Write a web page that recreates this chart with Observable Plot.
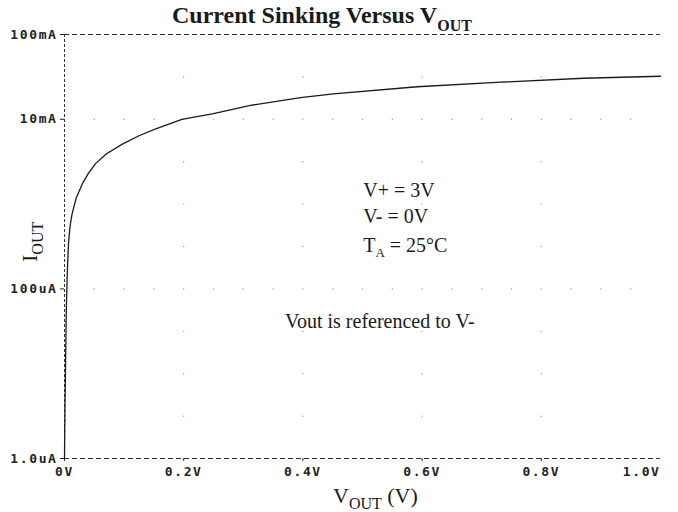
<!DOCTYPE html>
<html><head><meta charset="utf-8">
<script src="https://cdn.jsdelivr.net/npm/d3@7"></script>
<script src="https://cdn.jsdelivr.net/npm/@observablehq/plot@0.6"></script>
<style>body{margin:0;background:#fff}</style>
</head><body><div id="chart"></div>
<script>
// Output voltage (V) and sink current (A)
const vout = [0, 0.0008, 0.0015, 0.003, 0.0045, 0.0067, 0.0085, 0.010, 0.0125, 0.0156, 0.020, 0.030, 0.040, 0.052, 0.070, 0.097, 0.125, 0.153, 0.197, 0.248, 0.312, 0.396, 0.451, 0.592, 0.732, 0.871, 1.0];
const iout = [1e-6, 4e-6, 9e-6, 5.5e-5, 1.45e-4, 3.4e-4, 4.8e-4, 5.9e-4, 7.5e-4, 9.2e-4, 1.2e-3, 1.74e-3, 2.3e-3, 3.0e-3, 3.9e-3, 5.1e-3, 6.4e-3, 7.7e-3, 9.96e-3, 1.16e-2, 1.46e-2, 1.8e-2, 2.0e-2, 2.42e-2, 2.74e-2, 3.05e-2, 3.22e-2];

const xTicks = [0, 0.2, 0.4, 0.6, 0.8, 1.0];
const xTickLabels = ["0V", "0.2V", "0.4V", "0.6V", "0.8V", "1.0V"];
const yTicks = [1e-6, 1e-4, 1e-2, 1e-1];
const yTickLabels = ["1.0uA", "100uA", "10mA", "100mA"];

// dotted grid: rows at labelled decades, columns at major x ticks
const gridRowY = [1e-4, 1e-2];
const gridRowX = [0.05, 0.1, 0.15, 0.25, 0.3, 0.35, 0.45, 0.5, 0.55, 0.65, 0.7, 0.75, 0.85, 0.9, 0.95];
const gridColX = [0.2, 0.4, 0.6, 0.8];
const gridColY = [3.16e-6, 1e-5, 3.16e-5, 1e-4, 3.16e-4, 1e-3, 3.16e-3, 1e-2, 3.16e-2];

const curve = vout.map((v, i) => ({v, i: iout[i]}));
const grid = [
  ...gridRowY.flatMap(y => gridRowX.map(x => ({x, y}))),
  ...gridColX.flatMap(x => gridColY.map(y => ({x, y})))
];

const tickFont = {fontFamily: "DejaVu Sans Mono", fontSize: 13, fontWeight: "bold", fill: "#222"};

const plot = Plot.plot({
  width: 678, height: 512,
  marginLeft: 64, marginRight: 18, marginTop: 34, marginBottom: 54,
  x: {domain: [0, 1]},
  y: {type: "log", domain: [1e-6, 1e-1]},
  style: {background: "#fff", color: "#222"},
  marks: [
    Plot.dot(grid, {x: "x", y: "y", r: 0.7, fill: "#999", stroke: null}),
    Plot.ruleY([1e-1], {stroke: "#333", strokeDasharray: "5,3"}),
    Plot.ruleY([1e-6], {stroke: "#333", strokeDasharray: "5,3"}),
    Plot.ruleX([0], {stroke: "#333", strokeDasharray: "3,2"}),
    Plot.axisY(yTicks, {tickSize: 4, tickPadding: 3, label: null, tickFormat: d => yTickLabels[yTicks.indexOf(d)], ...tickFont}),
    Plot.axisX(xTicks.slice(0, 5), {tickSize: 3, tickPadding: 5, label: null, tickFormat: d => xTickLabels[xTicks.indexOf(d)], ...tickFont}),
    Plot.axisX(xTicks.slice(5), {tickSize: 0, tickPadding: 8, label: null, textAnchor: "end", tickFormat: d => xTickLabels[xTicks.indexOf(d)], ...tickFont}),
    Plot.line(curve, {x: "v", y: "i", stroke: "#1a1a1a", strokeWidth: 1.3})
  ]
});

const svg = d3.select(plot);
svg.selectAll('g[aria-label="x-axis tick label"] text, g[aria-label="y-axis tick label"] text').attr("letter-spacing", "1.6px");

const sx = plot.scale("x"), sy = plot.scale("y");
const serif = "Liberation Serif, Times New Roman, serif";

function sub(sel, main, subText, size, subSize, dy, weight, rest) {
  const t = sel.append("text").attr("font-family", serif).attr("font-size", size).attr("fill", "#1a1a1a").attr("text-anchor", "start");
  if (weight) t.attr("font-weight", weight);
  t.append("tspan").text(main);
  t.append("tspan").attr("font-size", subSize).attr("dy", dy).text(subText);
  if (rest) t.append("tspan").attr("dy", -dy).text(rest);
  return t;
}

// title
sub(svg, "Current Sinking Versus V", "OUT", 24, 16, 8, "bold").attr("x", 172).attr("y", 23);

// y label
sub(svg, "I", "OUT", 22, 16, 6, null).attr("transform", "translate(37,262) rotate(-90)");

// x label
sub(svg, "V", "OUT", 22, 16, 6, null, " (V)").attr("x", 333).attr("y", 503);

// annotations (data coordinates)
const annX = 0.502;
const ann = svg.append("g").attr("font-family", serif).attr("font-size", 20).attr("fill", "#1a1a1a").attr("text-anchor", "start");
ann.append("text").attr("x", sx.apply(annX)).attr("y", sy.apply(1.2e-3)).text("V+ = 3V");
ann.append("text").attr("x", sx.apply(annX)).attr("y", sy.apply(5.9e-4)).text("V- = 0V");
const ta = ann.append("text").attr("x", sx.apply(annX)).attr("y", sy.apply(2.7e-4));
ta.append("tspan").text("T");
ta.append("tspan").attr("font-size", 13).attr("dy", 5).text("A");
ta.append("tspan").attr("dy", -5).text(" = 25°C");
ann.append("text").attr("x", sx.apply(0.371)).attr("y", sy.apply(3.4e-5)).text("Vout is referenced to V-");

document.getElementById("chart").appendChild(plot);
</script>
</body></html>
